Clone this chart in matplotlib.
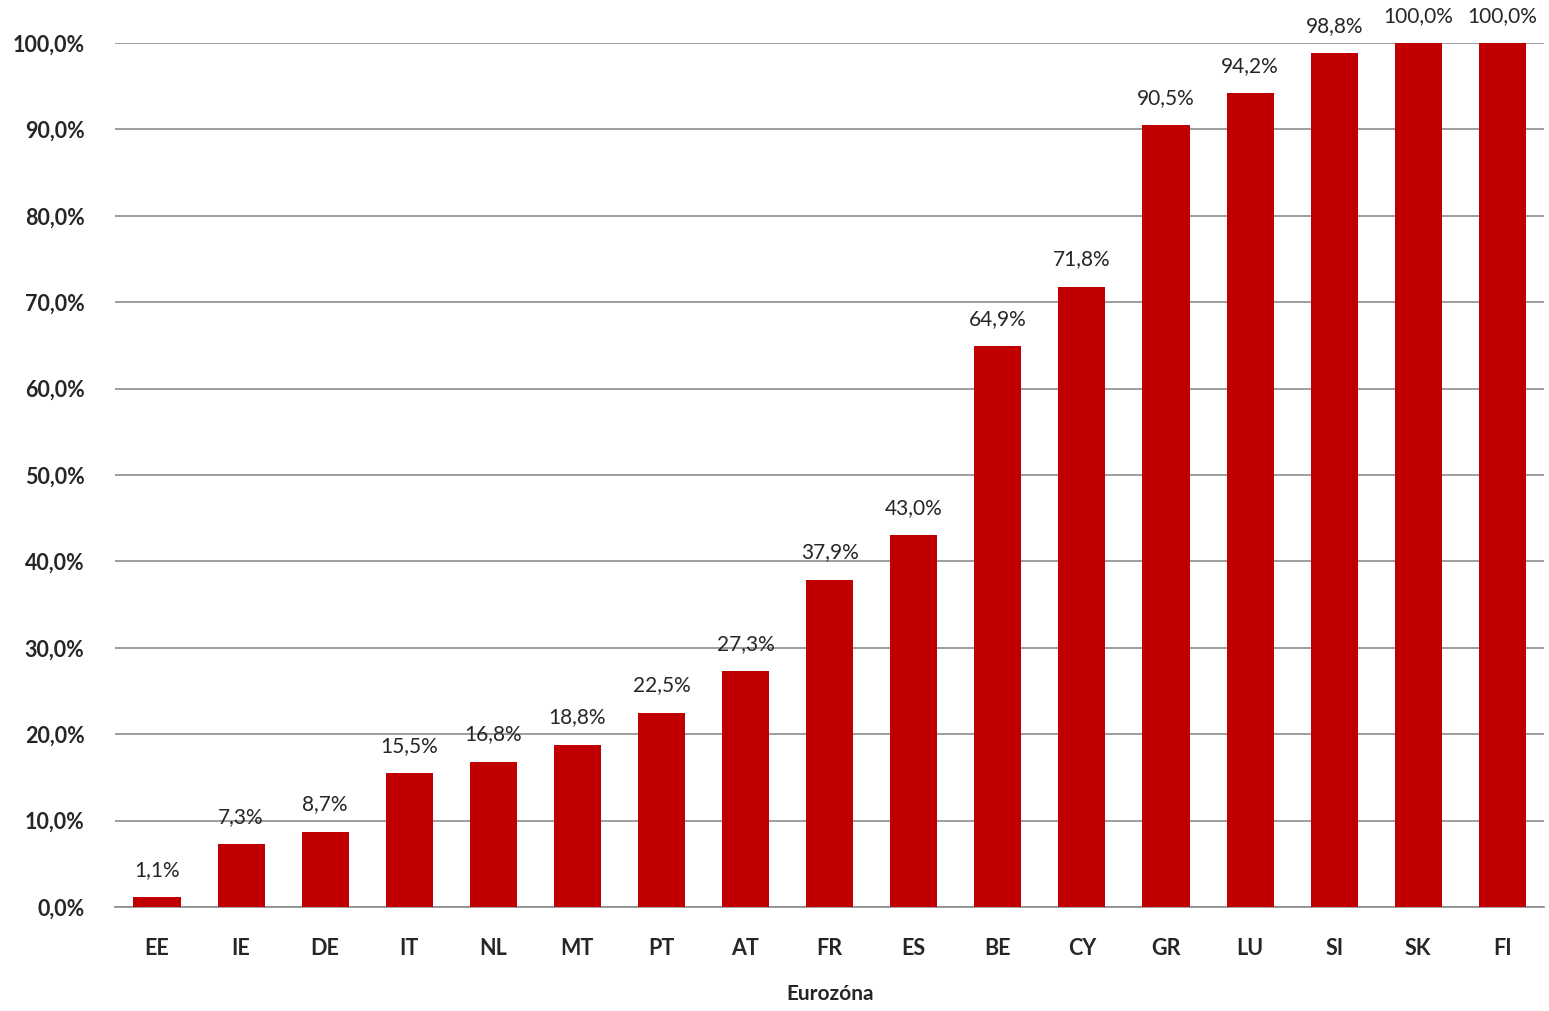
import matplotlib
matplotlib.use("Agg")
import matplotlib.pyplot as plt

countries = ['EE', 'IE', 'DE', 'IT', 'NL', 'MT', 'PT', 'AT', 'FR', 'ES',
             'BE', 'CY', 'GR', 'LU', 'SI', 'SK', 'FI']
values = [1.1, 7.3, 8.7, 15.5, 16.8, 18.8, 22.5, 27.3, 37.9, 43.0,
          64.9, 71.8, 90.5, 94.2, 98.8, 100.0, 100.0]
yticks = [0, 10, 20, 30, 40, 50, 60, 70, 80, 90, 100]

plt.rcParams['font.family'] = ['Lato', 'DejaVu Sans']

fig = plt.figure(figsize=(15.49, 10.11), dpi=100)
ax = fig.add_axes([0.0742, 0.1029, 0.9228, 0.8546])

x = range(len(countries))
bars = ax.bar(x, values, width=0.56, color='#C00000', zorder=3)

for xi, v in zip(x, values):
    ax.text(xi, v + 2.0, ('%.1f%%' % v).replace('.', ','), ha='center', va='bottom',
            fontsize=15, color='#262626', clip_on=False)

ax.set_xlim(-0.5, len(countries) - 0.5)
ax.set_ylim(0, 100)
ax.set_yticks(yticks)
ax.set_yticklabels([('%.1f%%' % t).replace('.', ',') for t in yticks],
                   fontsize=15.5, fontweight='bold', color='#262626')
ax.set_xticks(list(x))
ax.set_xticklabels(countries, fontsize=15.5, fontweight='bold', color='#262626')
ax.tick_params(axis='both', length=0)
ax.tick_params(axis='x', pad=22)
ax.tick_params(axis='y', pad=22)

ax.yaxis.grid(True, color='#8c8c8c', linewidth=1.2, zorder=0)
for s in ['top', 'right', 'left']:
    ax.spines[s].set_visible(False)
ax.spines['bottom'].set_color('#8c8c8c')
ax.spines['bottom'].set_linewidth(1.2)

ax.set_xlabel('Eurozóna', fontsize=15, fontweight='bold', color='#262626', labelpad=18)

fig.savefig('out.png', dpi=100)
